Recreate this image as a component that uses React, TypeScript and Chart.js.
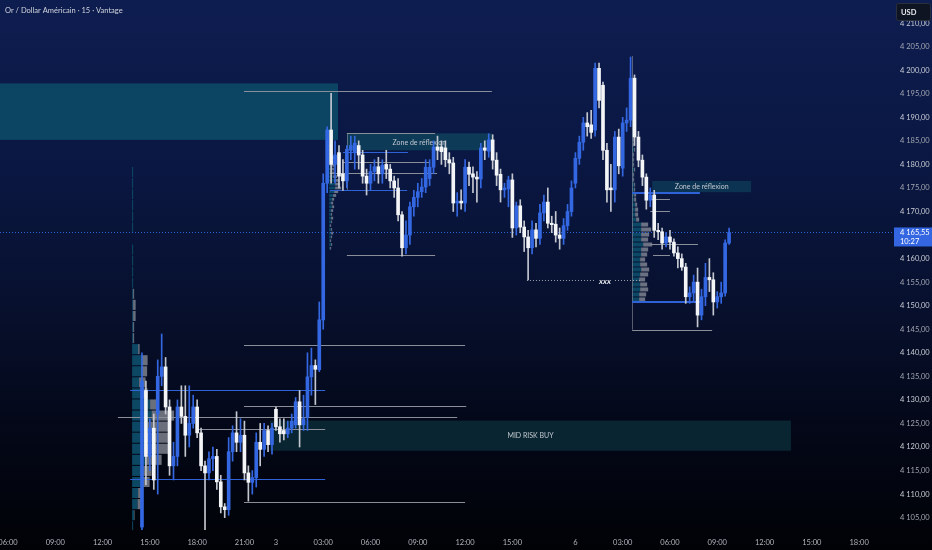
import React, { useEffect, useRef } from "react";
import { Chart, registerables } from "chart.js";

Chart.register(...registerables);

// ---------- DATA ----------
const TITLE = "Or / Dollar Américain · 15 · Vantage";
const CURRENCY = "USD";
const START_INDEX = 34; // first candle index (15-minute bars)

const opens = [
  4103, 4132, 4118, 4124, 4127, 4135, 4137, 4128.5, 4116, 4118, 4128.5, 4126.5, 4122.5, 4125, 4128.5, 4123, 4116, 4114.5, 4117.5, 4118,
  4112.6, 4107.3, 4106.7, 4119, 4123, 4121, 4122.5, 4114.5, 4112.5, 4113.5, 4121, 4119.5, 4123.5, 4120.5, 4128, 4124.3, 4123.5, 4122.8, 4124, 4124.7,
  4129.6, 4124.7, 4126.3, 4134.9, 4137.3, 4136.4, 4147, 4176, 4187.3, 4180, 4182.5, 4178, 4176.5, 4183, 4182.5, 4184, 4182, 4177.5, 4176, 4178.5,
  4179.5, 4178, 4180, 4179, 4176.5, 4175, 4169.3, 4162.3, 4165, 4171, 4173, 4174.2, 4175.2, 4177, 4179.4, 4183.7, 4183.7, 4183.5, 4181, 4180.3,
  4171.8, 4172.2, 4171.8, 4179.4, 4178, 4177.3, 4176.9, 4183.5, 4182.8, 4185.2, 4180.9, 4177.9, 4174.6, 4174.8, 4176.7, 4166.5, 4171.2, 4166.7, 4164.6, 4162.3,
  4166.1, 4164.3, 4169.7, 4172, 4167.5, 4167.3, 4165, 4164.3, 4167, 4170, 4176, 4181.3, 4184.7, 4188.8, 4188.4, 4187.3, 4200.4, 4196.8, 4183, 4175,
  4174.6, 4185.8, 4179.2, 4188.8, 4189.4, 4198.3, 4185.8, 4180.9, 4177.3, 4172.4, 4173.5, 4166, 4165.7, 4163.3, 4164.6, 4163.5, 4161.2, 4160, 4158.2, 4151.9,
  4152.7, 4155, 4148, 4151.9, 4156, 4155.5, 4150.8, 4151.9, 4152.7, 4163.3,
];
const highs = [
  4140, 4134, 4126, 4127, 4138.5, 4144, 4139, 4130, 4121, 4130, 4133, 4133, 4133, 4131, 4130, 4124, 4117, 4119, 4120, 4119.5,
  4114, 4108, 4122, 4124.5, 4127.5, 4126, 4125.5, 4116, 4115, 4123, 4125, 4125, 4124.5, 4125, 4128.5, 4126, 4126, 4125.5, 4127, 4130.5,
  4132, 4131, 4140, 4141, 4138.5, 4150.8, 4178, 4188, 4195.1, 4185, 4184, 4181, 4184, 4186, 4186, 4185, 4183, 4179, 4180, 4181,
  4181.5, 4181, 4183, 4180, 4177.5, 4177, 4170, 4168, 4172, 4174.5, 4176, 4177, 4181, 4181, 4185, 4186, 4185, 4185, 4182.5, 4181.5,
  4174, 4174.6, 4181, 4180.5, 4179.5, 4178.5, 4184.5, 4185, 4186.5, 4186.3, 4182.5, 4179, 4176, 4177.5, 4178, 4172, 4172.5, 4168, 4166, 4168,
  4167.5, 4171.5, 4173.5, 4175, 4169, 4170, 4166.5, 4168.5, 4171.5, 4176.5, 4182.5, 4186, 4190, 4191, 4191.5, 4201.5, 4201.5, 4197.5, 4184.5, 4180,
  4187, 4187.5, 4190, 4192, 4202.8, 4199, 4187, 4182, 4178, 4175, 4174.5, 4167.5, 4166.5, 4165.5, 4166, 4164.2, 4162.5, 4161, 4159, 4154,
  4156.5, 4158, 4153.5, 4159, 4160, 4157, 4153, 4155, 4164, 4166.5,
];
const lows = [
  4102, 4112, 4115, 4111, 4110, 4133, 4127, 4114, 4113, 4116, 4125, 4118, 4120, 4124, 4122, 4115, 4102, 4113, 4115, 4111,
  4106, 4105, 4105.5, 4117, 4119, 4119, 4113, 4108.5, 4110, 4111.5, 4116, 4118, 4119, 4118.5, 4123.5, 4121, 4121.5, 4122, 4123, 4124,
  4120, 4123.5, 4123.5, 4131, 4129, 4136, 4145, 4174, 4176, 4176, 4175, 4174.5, 4175, 4181, 4179, 4179, 4176, 4173.5, 4174.5, 4176.5,
  4176, 4176, 4177, 4175, 4173, 4168, 4160.5, 4161, 4163, 4169, 4171, 4173, 4174, 4175.5, 4178, 4181, 4180, 4179.5, 4178, 4170,
  4169, 4170.5, 4170, 4175.5, 4174, 4172, 4175, 4181, 4181.5, 4179, 4175.5, 4172, 4173, 4171, 4164.5, 4165, 4165.5, 4161.5, 4155.5, 4161,
  4162.5, 4163, 4168, 4166.5, 4165.5, 4163.5, 4162, 4163, 4166, 4169, 4175, 4180, 4183, 4186, 4185.5, 4186, 4192, 4181, 4172, 4170,
  4172, 4178, 4177.5, 4187, 4188, 4184, 4179.5, 4175.5, 4170.5, 4171, 4164.5, 4164, 4162, 4162.5, 4162, 4160.5, 4158, 4157.5, 4150.5, 4150.5,
  4151, 4145.5, 4147, 4150, 4153, 4148, 4149.5, 4150.5, 4152, 4163,
];
const closes = [
  4134, 4118, 4124, 4113, 4135, 4137, 4128.5, 4116, 4118, 4128.5, 4126.5, 4122.5, 4125, 4128.5, 4123, 4116, 4114.5, 4117.5, 4118, 4112.6,
  4107.3, 4106.7, 4119, 4123, 4121, 4122.5, 4114.5, 4112.5, 4113.5, 4121, 4119.5, 4123.5, 4120.5, 4124, 4124.3, 4122.8, 4122.8, 4124, 4125.5, 4129.6,
  4124.7, 4126, 4134.9, 4137.3, 4136.5, 4147, 4176, 4187.3, 4180, 4182, 4177.5, 4176.5, 4183.2, 4184, 4184.5, 4182, 4177.5, 4176, 4178.5, 4179.5,
  4178, 4179.8, 4179, 4176.5, 4175, 4169.3, 4162.3, 4165, 4171, 4173, 4174.2, 4175.2, 4179.4, 4179.4, 4183.7, 4183, 4182.7, 4181, 4180.3, 4171.8,
  4172.2, 4171.8, 4179.4, 4177.9, 4177.3, 4176.9, 4183.5, 4183, 4185.2, 4180.9, 4177.7, 4174.6, 4175, 4176.7, 4166.5, 4171.2, 4166.7, 4164.6, 4162.3, 4166.1,
  4164.3, 4169.7, 4172, 4167.5, 4167.2, 4165, 4164.3, 4167, 4170, 4175, 4181.3, 4184.7, 4188.8, 4188, 4186.8, 4200.4, 4193.6, 4183, 4174.6, 4174.6,
  4185.8, 4179.7, 4188.8, 4189.4, 4198.3, 4185.8, 4180.9, 4177.3, 4172.4, 4173.5, 4166, 4165.7, 4163.3, 4164.6, 4163.5, 4161.2, 4160, 4158.2, 4151.9, 4152.7,
  4155, 4148, 4151.9, 4156, 4155.5, 4150.8, 4151.9, 4152.7, 4163.3, 4165.55,
];

const xTickIndex = [0, 12, 24, 36, 48, 60, 68, 80, 92, 104, 116, 128, 144, 156, 168, 180, 192, 204, 216];
const xTickLabels = ["06:00", "09:00", "12:00", "15:00", "18:00", "21:00", "3", "03:00", "06:00", "09:00", "12:00", "15:00", "6", "03:00", "06:00", "09:00", "12:00", "15:00", "18:00"];

const lastPrice = 4165.55;
const lastPriceText = "4 165,55";
const countdownText = "10:27";

// zones (bar index range, price range, label)
const zoneFrom = [-3, 86.0, 163.5, 66.5];
const zoneTo = [83.75, 122.8, 188.6, 198.7];
const zoneTop = [4197.2, 4186.6, 4176.5, 4125.6];
const zoneBottom = [4185.2, 4183.0, 4174.1, 4119.2];
const zoneLabels = ["", "Zone de réflexion", "Zone de réflexion", "MID RISK BUY"];

// horizontal levels
const levelFrom = [59.9, 86.0, 85.0, 85.0, 81.7, 81.7, 86.0, 59.9, 31.0, 59.9, 27.9, 48.2, 31.0, 59.9, 158.4, 158.4, 163.0, 163.0, 163.0, 163.7, 158.4];
const levelTo = [122.8, 108.4, 101.5, 107.1, 108.9, 101.3, 108.4, 116.0, 80.5, 116.3, 114.0, 80.5, 80.5, 116.0, 175.6, 175.6, 168.0, 168.0, 175.1, 168.0, 178.7];
const levelPrice = [4195.55, 4186.64, 4182.6, 4180.5, 4178.2, 4174.55, 4160.77, 4141.7, 4132.15, 4128.75, 4126.4, 4123.9, 4113.3, 4108.4, 4173.9, 4150.8, 4172.6, 4170.1, 4163.1, 4160.8, 4144.9];
const levelKind = ["g", "g", "b", "g", "g", "b", "g", "g", "b", "g", "g", "g", "b", "g", "B", "B", "g", "g", "g", "g", "g"];

// marked level "xxx"
const xxxFrom = 131.7;
const xxxTo = 160.4;
const xxxPrice = 4155.47;
const xxxLabel = "xxx";

// volume profiles (up / down volume per price row)
const leftProfileBase = 31.5;
const leftProfileStart = 4102;
const leftProfileStep = 2.35;
const leftProfileUp = [10, 20, 55, 60, 95, 110, 130, 145, 145, 160, 195, 180, 95, 70, 90, 95, 60, 10, 10, 10, 10, 10, 10, 10, 10, 10, 0, 10, 10, 10, 10, 10, 10];
const leftProfileDown = [0, 5, 55, 50, 80, 85, 165, 235, 235, 220, 225, 70, 60, 65, 60, 60, 15, 10, 10, 25, 25, 10, 0, 0, 0, 0, 0, 0, 0, 0, 0, 0, 0];

const midProfileBase = 81.5;
const midProfileStart = 4161.8;
const midProfileStep = 0.8;
const midProfileUp = [10, 20, 10, 20, 20, 20, 10, 20, 20, 20, 20, 30, 20, 30, 40, 50, 60, 60, 50, 40, 30, 30, 30, 20, 30, 20, 20, 10];
const midProfileDown = [10, 10, 10, 10, 20, 10, 10, 10, 20, 10, 20, 20, 20, 20, 30, 40, 60, 50, 50, 40, 30, 20, 30, 20, 20, 10, 10, 10];

const rightProfileBase = 158.4;
const rightProfileStart = 4150.8;
const rightProfileStep = 1.06;
const rightProfileUp = [70, 70, 80, 80, 70, 80, 90, 80, 80, 90, 90, 110, 90, 90, 90, 90, 40, 30, 30, 30, 20, 20, 20, 20, 10, 10, 20, 10, 10, 10, 20, 10, 10, 10, 10, 10, 10, 10, 10, 10];
const rightProfileDown = [60, 70, 80, 70, 60, 80, 80, 70, 50, 60, 70, 90, 70, 80, 100, 70, 30, 30, 30, 20, 20, 20, 10, 10, 10, 10, 10, 10, 10, 10, 10, 10, 10, 10, 0, 10, 10, 0, 0, 0];

// ---------- STYLE ----------
const FONT = "Lato, 'Noto Sans', sans-serif";
const UP = "#3468e3";
const DOWN = "#f4f5f7";
const UP_WICK = "#3468e3";
const DOWN_WICK = "#c3c7cf";
const GRAY_LINE = "#8a8e98";
const BLUE_LINE = "#2f62d6";
const ZONE_COLORS = ["#0c4463", "#0d3a57", "#0c3452", "#082531"];
const PROFILE_UP = "rgba(13, 76, 104, 0.95)";
const PROFILE_DOWN = "rgba(140, 145, 156, 0.75)";

const W = 932;
const H = 550;
const X_MIN = -2.03;
const X_MAX = 224.6;
const Y_MAX = 4200 + 70.2 / 4.71;
const Y_MIN = 4200 - (530 - 70.2) / 4.71;

function fmtPrice(v: number) {
  const r = Math.round(v * 100) / 100;
  const th = Math.floor(r / 1000);
  const rest = r - th * 1000;
  const intPart = Math.floor(rest);
  const dec = Math.round((rest - intPart) * 100);
  return `${th} ${String(intPart).padStart(3, "0")},${String(dec).padStart(2, "0")}`;
}

export default function App() {
  const ref = useRef<HTMLCanvasElement | null>(null);

  useEffect(() => {
    const canvas = ref.current;
    if (!canvas) return;

    const idx = opens.map((_, i) => START_INDEX + i);
    const isUp = opens.map((o, i) => closes[i] >= o);

    const bgPlugin = {
      id: "bg",
      beforeDraw(chart: any) {
        const { ctx, width, height } = chart;
        const g = ctx.createLinearGradient(0, 0, 0, height);
        g.addColorStop(0, "#0e1d50");
        g.addColorStop(0.3, "#0a1742");
        g.addColorStop(0.55, "#07102e");
        g.addColorStop(0.8, "#030716");
        g.addColorStop(1, "#010206");
        ctx.save();
        ctx.fillStyle = g;
        ctx.fillRect(0, 0, width, height);
        ctx.restore();
      },
    };

    const drawProfile = (ctx: any, xs: any, ys: any, base: number, start: number, step: number, up: number[], down: number[], widthBars: number) => {
      const maxTot = Math.max(...up.map((u, i) => u + down[i]));
      const x0 = xs.getPixelForValue(base);
      for (let i = 0; i < up.length; i++) {
        const yA = ys.getPixelForValue(start + i * step);
        const yB = ys.getPixelForValue(start + (i + 1) * step);
        const top = Math.min(yA, yB) + 0.5;
        const h = Math.max(Math.abs(yA - yB) - 1, 0.8);
        const xUp = xs.getPixelForValue(base + (up[i] / maxTot) * widthBars);
        const xTot = xs.getPixelForValue(base + ((up[i] + down[i]) / maxTot) * widthBars);
        if (up[i] > 0) {
          ctx.fillStyle = PROFILE_UP;
          ctx.fillRect(x0, top, Math.max(xUp - x0, 1), h);
        }
        if (down[i] > 0) {
          ctx.fillStyle = PROFILE_DOWN;
          ctx.fillRect(xUp, top, xTot - xUp, h);
        }
      }
    };

    const overlayPlugin = {
      id: "overlay",
      beforeDatasetsDraw(chart: any) {
        const { ctx, chartArea } = chart;
        const xs = chart.scales.x;
        const ys = chart.scales.y;
        const px = (v: number) => xs.getPixelForValue(v);
        const py = (v: number) => ys.getPixelForValue(v);
        ctx.save();
        ctx.beginPath();
        ctx.rect(chartArea.left, chartArea.top, chartArea.right - chartArea.left, chartArea.bottom - chartArea.top);
        ctx.clip();

        // zones
        zoneFrom.forEach((f, i) => {
          const x1 = px(f);
          const x2 = px(zoneTo[i]);
          const y1 = py(zoneTop[i]);
          const y2 = py(zoneBottom[i]);
          ctx.fillStyle = ZONE_COLORS[i];
          ctx.fillRect(x1, y1, x2 - x1, y2 - y1);
          if (zoneLabels[i]) {
            ctx.fillStyle = "#c4c8d0";
            ctx.font = `7px ${FONT}`;
            ctx.textAlign = "center";
            ctx.textBaseline = "middle";
            ctx.fillText(zoneLabels[i], (x1 + x2) / 2, (y1 + y2) / 2 + 0.5);
          }
        });

        // volume profiles
        drawProfile(ctx, xs, ys, leftProfileBase, leftProfileStart, leftProfileStep, leftProfileUp, leftProfileDown, 10.66);
        drawProfile(ctx, xs, ys, midProfileBase, midProfileStart, midProfileStep, midProfileUp, midProfileDown, 3.05);
        drawProfile(ctx, xs, ys, rightProfileBase, rightProfileStart, rightProfileStep, rightProfileUp, rightProfileDown, 5.08);

        // vertical anchor lines
        ctx.strokeStyle = "rgba(140,145,156,0.6)";
        ctx.lineWidth = 1;
        ctx.beginPath();
        ctx.moveTo(Math.round(px(rightProfileBase)) + 0.5, py(4203));
        ctx.lineTo(Math.round(px(rightProfileBase)) + 0.5, py(4144.9));
        ctx.moveTo(Math.round(px(86.0)) + 0.5, py(4186.64));
        ctx.lineTo(Math.round(px(86.0)) + 0.5, py(4174.55));
        ctx.stroke();

        // levels
        levelFrom.forEach((f, i) => {
          const k = levelKind[i];
          ctx.strokeStyle = k === "g" ? GRAY_LINE : BLUE_LINE;
          ctx.lineWidth = k === "B" ? 2 : 1;
          const y = k === "B" ? Math.round(py(levelPrice[i])) : Math.round(py(levelPrice[i])) + 0.5;
          ctx.beginPath();
          ctx.moveTo(px(f), y);
          ctx.lineTo(px(levelTo[i]), y);
          ctx.stroke();
        });

        // xxx dotted level
        const yx = Math.round(py(xxxPrice)) + 0.5;
        const xm = px(xxxFrom + (xxxTo - xxxFrom) * 0.69);
        ctx.strokeStyle = "#9ea2ab";
        ctx.setLineDash([1, 2]);
        ctx.beginPath();
        ctx.moveTo(px(xxxFrom), yx);
        ctx.lineTo(xm - 10, yx);
        ctx.moveTo(xm + 10, yx);
        ctx.lineTo(px(xxxTo), yx);
        ctx.stroke();
        ctx.setLineDash([]);
        ctx.fillStyle = "#e8eaee";
        ctx.font = `italic bold 8px ${FONT}`;
        ctx.textAlign = "center";
        ctx.textBaseline = "middle";
        ctx.fillText(xxxLabel, xm, yx + 0.5);

        // last price dotted line
        const yl = Math.round(py(lastPrice)) + 0.5;
        ctx.strokeStyle = BLUE_LINE;
        ctx.setLineDash([1, 2]);
        ctx.beginPath();
        ctx.moveTo(chartArea.left, yl);
        ctx.lineTo(chartArea.right, yl);
        ctx.stroke();
        ctx.setLineDash([]);
        ctx.restore();
      },
      afterDraw(chart: any) {
        const { ctx, chartArea, width } = chart;
        const ys = chart.scales.y;
        const yl = ys.getPixelForValue(lastPrice);
        ctx.save();
        // last price label
        ctx.fillStyle = "#3366e0";
        ctx.fillRect(chartArea.right + 1, yl - 5, width - chartArea.right - 1, 19);
        ctx.fillStyle = "#ffffff";
        ctx.font = `7.5px ${FONT}`;
        ctx.textAlign = "left";
        ctx.textBaseline = "middle";
        ctx.fillText(lastPriceText, chartArea.right + 7, yl + 0.5);
        ctx.fillText(countdownText, chartArea.right + 7, yl + 9.5);

        // currency box
        const bx = chartArea.right + 3;
        const by = 3;
        const bw = width - bx - 2;
        const bh = 17;
        ctx.fillStyle = "#0f1422";
        ctx.strokeStyle = "#2a2f3d";
        ctx.lineWidth = 1;
        ctx.beginPath();
        (ctx as any).roundRect(bx + 0.5, by + 0.5, bw, bh, 2);
        ctx.fill();
        ctx.stroke();
        ctx.fillStyle = "#e6e8ec";
        ctx.font = `bold 7.5px ${FONT}`;
        ctx.fillText(CURRENCY, bx + 5, by + bh / 2 + 1);

        // title
        ctx.fillStyle = "#d1d4dc";
        ctx.font = `7.5px ${FONT}`;
        ctx.fillText(TITLE, 5, 10.5);
        ctx.restore();
      },
    };

    const chart = new Chart(canvas, {
      type: "bar",
      data: {
        datasets: [
          {
            label: "wick",
            data: idx.map((x, i) => ({ x, y: [lows[i], highs[i]] })) as any,
            backgroundColor: isUp.map((u) => (u ? UP_WICK : DOWN_WICK)),
            barThickness: 1,
            grouped: false,
            borderWidth: 0,
            order: 2,
          } as any,
          {
            label: "body",
            data: idx.map((x, i) => ({ x, y: [opens[i], closes[i]] })) as any,
            backgroundColor: isUp.map((u) => (u ? UP : DOWN)),
            barThickness: 3,
            minBarLength: 1,
            grouped: false,
            borderWidth: 0,
            order: 1,
          } as any,
        ],
      },
      options: {
        animation: false,
        responsive: false,
        maintainAspectRatio: false,
        layout: { padding: 0 },
        plugins: {
          legend: { display: false },
          tooltip: { enabled: false },
        },
        scales: {
          x: {
            type: "linear",
            min: X_MIN,
            max: X_MAX,
            offset: false,
            grid: { display: false, drawTicks: false },
            border: { display: false },
            ticks: {
              autoSkip: false,
              maxRotation: 0,
              color: "#b2b5be",
              font: { size: 7.5, family: FONT },
              padding: 8,
              callback: (_v: any, i: number) => xTickLabels[i],
            },
            afterBuildTicks: (s: any) => {
              s.ticks = xTickIndex.map((v) => ({ value: v }));
            },
            afterFit: (s: any) => {
              s.height = 20;
              s.paddingLeft = 0;
              s.paddingRight = 0;
            },
          },
          y: {
            type: "linear",
            position: "right",
            min: Y_MIN,
            max: Y_MAX,
            grid: { display: false, drawTicks: false },
            border: { display: false },
            ticks: {
              stepSize: 5,
              includeBounds: false,
              padding: 7,
              color: (c: any) => (Math.round(c.tick.value) % 10 === 0 ? "#c9ccd4" : "#a2a6af"),
              font: { size: 7.5, family: FONT },
              callback: (v: any) => fmtPrice(Number(v)),
            },
            afterFit: (s: any) => {
              s.width = 39;
              s.paddingTop = 0;
              s.paddingBottom = 0;
            },
          },
        },
      } as any,
      plugins: [bgPlugin, overlayPlugin],
    });

    return () => chart.destroy();
  }, []);

  return (
    <div style={{ position: "absolute", left: 0, top: 0, width: W, height: H, overflow: "hidden" }}>
      <canvas ref={ref} width={W} height={H} style={{ display: "block", width: W, height: H }} />
    </div>
  );
}
